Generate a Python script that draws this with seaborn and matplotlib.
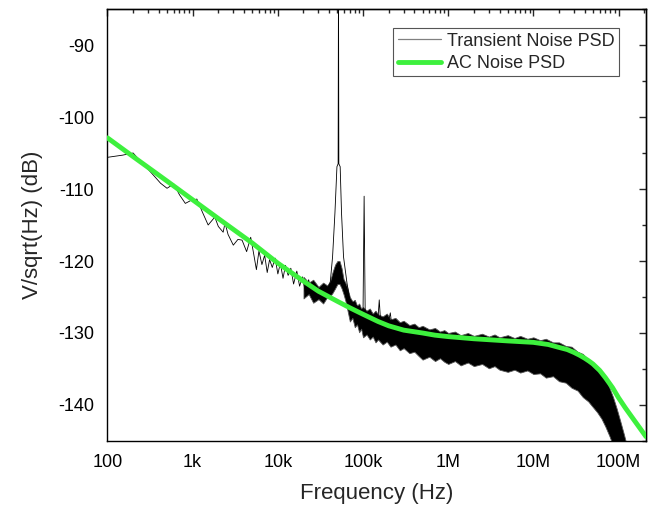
import numpy as np
import pandas as pd
import seaborn as sns
import matplotlib
matplotlib.use('Agg')
import matplotlib.pyplot as plt
from matplotlib.ticker import FixedLocator, FixedFormatter, LogLocator, NullFormatter, MultipleLocator

sns.set_style('white')
plt.rcParams['font.family'] = ['Liberation Sans', 'DejaVu Sans']
plt.rcParams['axes.unicode_minus'] = False

# AC noise PSD (green, smooth)
ac_freq = [1e2, 2e2, 5e2, 1e3, 2e3, 5e3, 1e4, 2e4, 3e4, 5e4, 7e4, 1e5, 1.5e5, 2e5, 3e5, 5e5,
           7e5, 1e6, 2e6, 5e6, 1e7, 1.5e7, 2e7, 2.5e7, 3e7, 3.5e7, 4e7, 4.5e7, 5e7, 6e7, 7e7,
           8.5e7, 1e8, 1.2e8, 1.5e8, 1.8e8, 2.1e8]
ac_db = [-102.9, -105.5, -108.9, -111.5, -114.1, -117.5, -120.3, -122.8, -124.2, -125.6,
         -126.5, -127.4, -128.4, -129.0, -129.6, -130.0, -130.3, -130.5, -130.8, -131.1,
         -131.3, -131.6, -132.0, -132.3, -132.7, -133.1, -133.5, -133.9, -134.3, -135.2,
         -136.2, -137.6, -139.0, -140.4, -142.0, -143.3, -144.4]

# transient noise PSD, thin trace (low freq part, 50k peak and spurs)
trace_freq = [100, 150, 200, 260, 330, 420, 500, 600, 700, 820, 950, 1120, 1300, 1520, 1820,
              2000, 2280, 2400, 2600, 3000, 3400, 3800, 4300, 4800, 5200, 5600, 6000, 6500,
              7000, 7500, 8000, 8600, 9300, 10000, 10700, 11500, 12300, 13200, 14200, 15300,
              16700, 18000, 19500, 21000, 23000, 25000, 27000, 30000, 33000, 36000, 39000,
              41200, 43900, 46800, 49400, 51000, 51500, 52000, 53900, 55900, 59000, 64700,
              70000, 80000, 90000, 100000, 103000, 106000, 130000, 150000, 155000, 160000,
              200000, 209000, 215000]
trace_db = [-105.6, -105.3, -105.0, -106.5, -107.8, -109.2, -109.9, -109.3, -110.8, -112.0,
            -111.6, -111.4, -113.2, -115.0, -113.9, -115.2, -116.0, -114.7, -116.3, -117.8,
            -117.0, -117.1, -118.7, -116.7, -119.0, -121.2, -118.6, -120.5, -119.2, -121.6,
            -119.8, -120.9, -119.6, -121.8, -120.3, -122.4, -120.6, -122.0, -121.0, -123.2,
            -121.4, -123.5, -122.2, -124.3, -122.6, -124.6, -123.4, -125.2, -123.8, -124.5,
            -123.6, -123.0, -119.4, -113.3, -106.9, -106.5, -80.0, -106.5, -106.9, -113.3,
            -119.4, -123.0, -125.4, -126.0, -126.5, -127.0, -111.0, -127.3, -127.6, -127.9,
            -125.4, -128.0, -128.3, -127.2, -128.4]

# transient noise PSD, dense band (upper / lower envelope)
band_freq = [20e3, 23e3, 26e3, 30e3, 34e3, 38e3, 41e3, 44e3, 47e3, 50e3, 53e3, 56e3, 59e3,
             62e3, 65e3, 70e3, 75e3, 80e3, 85e3, 90e3, 95e3, 100e3, 110e3, 120e3, 130e3,
             140e3, 150e3, 170e3, 190e3, 210e3, 240e3, 270e3, 300e3, 350e3, 400e3, 450e3,
             500e3, 600e3, 700e3, 800e3, 900e3, 1e6, 1.2e6, 1.4e6, 1.7e6, 2e6, 2.5e6, 3e6,
             3.5e6, 4e6, 5e6, 6e6, 7e6, 8.5e6, 10e6, 12e6, 14e6, 17e6, 20e6, 24e6, 28e6,
             33e6, 38e6, 44e6, 50e6, 56e6, 63e6, 70e6, 78e6, 86e6, 95e6, 105e6, 115e6, 126e6]
band_hi = [-122.2, -123.0, -122.6, -123.6, -123.0, -123.4, -122.8, -121.5, -120.5, -120.0,
           -120.0, -121.0, -122.5, -123.0, -123.6, -125.0, -125.6, -125.4, -126.2, -125.9,
           -126.6, -126.4, -126.9, -126.6, -127.3, -126.9, -127.4, -127.7, -127.3, -128.1,
           -127.9, -128.5, -128.3, -128.9, -128.7, -129.2, -129.0, -129.5, -129.3, -129.8,
           -129.6, -130.0, -129.8, -130.3, -130.0, -130.4, -130.1, -130.5, -130.2, -130.6,
           -130.3, -130.7, -130.4, -130.8, -130.6, -131.0, -130.8, -131.3, -131.3, -131.8,
           -131.9, -132.6, -132.9, -133.7, -134.2, -134.9, -135.7, -136.3, -137.6, -138.9,
           -140.5, -142.3, -144.0, -145.8]
band_lo = [-125.2, -124.6, -125.8, -125.3, -125.9, -125.0, -124.9, -124.4, -123.8, -123.2,
           -123.2, -123.8, -124.6, -125.5, -126.6, -128.4, -127.9, -129.2, -128.8, -129.9,
           -129.4, -130.6, -130.2, -130.9, -130.5, -131.3, -130.9, -131.6, -131.2, -131.9,
           -131.6, -132.4, -132.1, -132.8, -132.6, -133.2, -133.7, -133.3, -133.9, -133.5,
           -134.0, -134.3, -133.9, -134.5, -134.1, -134.6, -134.3, -134.9, -134.6, -135.1,
           -135.4, -135.1, -135.5, -135.2, -135.7, -135.6, -136.2, -136.0, -136.7, -136.9,
           -137.6, -138.0, -138.9, -139.5, -140.3, -141.0, -141.9, -143.0, -144.3, -145.6,
           -147.5, -149.5, -151.5, -153.5]

xtick_vals = [1e2, 1e3, 1e4, 1e5, 1e6, 1e7, 1e8]
xtick_labels = ['100', '1k', '10k', '100k', '1M', '10M', '100M']

fig = plt.figure(figsize=(6.57, 5.15), dpi=100)
ax = fig.add_axes([0.1636, 0.1437, 0.8197, 0.8388])
ax.set_xscale('log')

ax.fill_between(band_freq, band_lo, band_hi, color='black', edgecolor='#555555',
                linewidth=0.6, zorder=2)
sns.lineplot(x=trace_freq, y=trace_db, ax=ax, color='black', lw=0.6, estimator=None,
             sort=False, label='Transient Noise PSD', zorder=3)
sns.lineplot(x=ac_freq, y=ac_db, ax=ax, color='#3df03d', lw=3.5, estimator=None,
             sort=False, label='AC Noise PSD', zorder=4, solid_joinstyle='round')

ax.set_xlim(100, 2.1e8)
ax.set_ylim(-145, -85)

ax.xaxis.set_major_locator(FixedLocator(xtick_vals))
ax.xaxis.set_major_formatter(FixedFormatter(xtick_labels))
ax.xaxis.set_minor_locator(LogLocator(base=10, subs=np.arange(2, 10), numticks=20))
ax.xaxis.set_minor_formatter(NullFormatter())
ax.yaxis.set_major_locator(MultipleLocator(10))
ax.yaxis.set_minor_locator(MultipleLocator(5))

ax.tick_params(which='major', direction='out', length=4.7, width=1, labelsize=13, pad=5,
               color='black', labelcolor='black')
ax.tick_params(which='minor', direction='out', length=2.4, width=1, color='black')
ax.tick_params(which='both', top=False, right=False)
for s in ax.spines.values():
    s.set_linewidth(1)
    s.set_color('black')

# mirrored axes with inward ticks
sx = ax.secondary_xaxis('top')
sx.xaxis.set_major_locator(FixedLocator(xtick_vals))
sx.xaxis.set_minor_locator(LogLocator(base=10, subs=np.arange(2, 10), numticks=20))
sx.tick_params(which='major', direction='in', length=5, width=1, labeltop=False)
sx.tick_params(which='minor', direction='in', length=2.8, width=1, labeltop=False)
sx.xaxis.set_minor_formatter(NullFormatter())
sy = ax.secondary_yaxis('right')
sy.yaxis.set_major_locator(MultipleLocator(10))
sy.yaxis.set_minor_locator(MultipleLocator(5))
sy.tick_params(which='major', direction='in', length=5, width=1, labelright=False)
sy.tick_params(which='minor', direction='in', length=2.8, width=1, labelright=False)
for s in list(sx.spines.values()) + list(sy.spines.values()):
    s.set_linewidth(1)

ax.set_xlabel('Frequency (Hz)', fontsize=16, labelpad=8)
ax.set_ylabel('V/sqrt(Hz) (dB)', fontsize=16, labelpad=11)

leg = ax.legend(loc='upper right', bbox_to_anchor=(0.95, 0.956), borderaxespad=0,
                fontsize=13, handlelength=2.4, handletextpad=0.33, labelspacing=0.3,
                borderpad=0.25, fancybox=False, framealpha=1, edgecolor='#555555')
leg.get_frame().set_linewidth(0.8)
leg.get_lines()[0].set_color('#808080')
leg.get_lines()[0].set_linewidth(0.9)

fig.savefig('out.png', dpi=100)
